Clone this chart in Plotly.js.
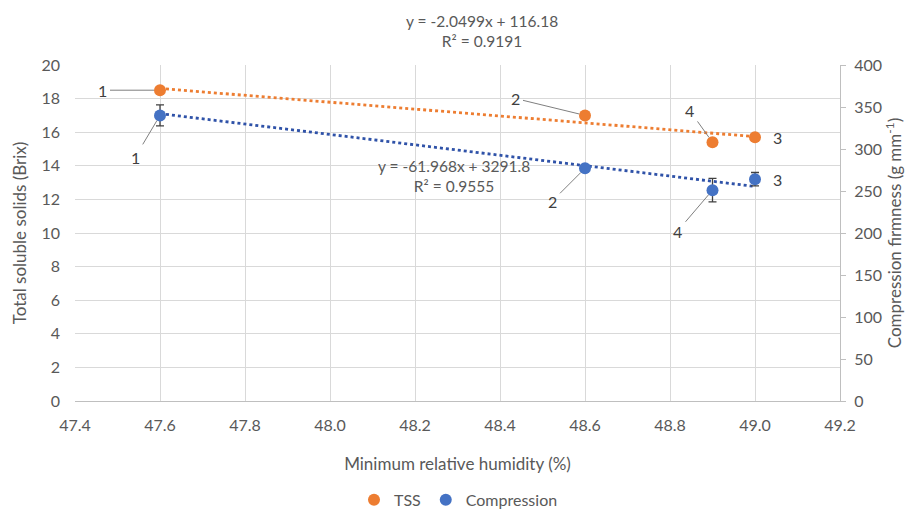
<!DOCTYPE html>
<html>
<head>
<meta charset="utf-8">
<script src="https://cdn.plot.ly/plotly-3.0.1.min.js"></script>
<style>html,body{margin:0;padding:0;background:#fff;}#chart{width:917px;height:511px;}</style>
</head>
<body>
<div id="chart"></div>
<script>
// Data
const humidity = [47.6, 48.6, 48.9, 49.0];
const pointLabels = ["1", "2", "4", "3"];
const tssValues = [18.5, 17.0, 15.4, 15.7];
const compressionValues = [340, 277, 251, 264];
const compressionErrors = [12.5, 3, 14, 8];
const tssFit = [-2.0499, 116.18];      // slope, intercept
const compressionFit = [-61.968, 3291.8];
const tssEqText = "y = -2.0499x + 116.18<br>R² = 0.9191";
const compEqText = "y = -61.968x + 3291.8<br>R² = 0.9555";

const ORANGE = "#ED7D31", BLUE = "#4472C4", BLUE_DARK = "#2F52A8";
const FONT = "Lato, 'Noto Sans', sans-serif";
const TXT = "#595959";

const xFit = [humidity[0], humidity[humidity.length - 1]];
const tssLine = xFit.map(x => tssFit[0] * x + tssFit[1]);
const compLine = xFit.map(x => compressionFit[0] * x + compressionFit[1]);

const traces = [
  {x: xFit, y: tssLine, mode: "lines", line: {color: ORANGE, width: 2.8, dash: "dot"}, showlegend: false, hoverinfo: "skip"},
  {x: xFit, y: compLine, yaxis: "y2", mode: "lines", line: {color: BLUE_DARK, width: 2.8, dash: "dot"}, showlegend: false, hoverinfo: "skip"},
  {x: humidity, y: tssValues, name: "TSS", mode: "markers", marker: {color: ORANGE, size: 12}},
  {x: humidity, y: compressionValues, name: "Compression", yaxis: "y2", mode: "markers",
   marker: {color: BLUE, size: 12},
   error_y: {type: "data", array: compressionErrors, visible: true, color: "#404040", thickness: 1.3, width: 4}}
];

// point label offsets (pixels) — styling only
const tssOff = [[-58, 0, true], [-70, -17, true], [-23, -32, true], [22, 0, false]];
const compOff = [[-25, 42, true], [-33, 33, true], [-35, 41, true], [22, 0, false]];

const annotations = [];
humidity.forEach((x, i) => {
  annotations.push({x: x, y: tssValues[i], xref: "x", yref: "y", text: pointLabels[i],
    showarrow: true, arrowhead: 0, arrowwidth: 1, arrowcolor: tssOff[i][2] ? "#7f7f7f" : "rgba(0,0,0,0)", standoff: 6,
    ax: tssOff[i][0], ay: tssOff[i][1], borderpad: 3,
    font: {family: FONT, size: 16, color: "#404040"}});
  annotations.push({x: x, y: compressionValues[i], xref: "x", yref: "y2", text: pointLabels[i],
    showarrow: true, arrowhead: 0, arrowwidth: 1, arrowcolor: compOff[i][2] ? "#7f7f7f" : "rgba(0,0,0,0)", standoff: 6,
    ax: compOff[i][0], ay: compOff[i][1], borderpad: 3,
    font: {family: FONT, size: 16, color: "#404040"}});
});
annotations.push({xref: "paper", yref: "paper", x: 0.532, y: 1.1, text: tssEqText, showarrow: false,
  font: {family: FONT, size: 15.5, color: TXT}, align: "center", yanchor: "middle"});
annotations.push({xref: "paper", yref: "paper", x: 0.495, y: 0.67, text: compEqText, showarrow: false,
  font: {family: FONT, size: 15.5, color: TXT}, align: "center", yanchor: "middle"});

const layout = {
  width: 917, height: 511,
  margin: {l: 75, r: 77, t: 65, b: 110},
  paper_bgcolor: "#fff", plot_bgcolor: "#fff",
  font: {family: FONT, color: TXT, size: 16},
  showlegend: true,
  legend: {orientation: "h", x: 0.5, xanchor: "center", xref: "container", yref: "container",
           y: 0.022, yanchor: "middle", itemwidth: 20, tracegroupgap: 0,
           font: {family: FONT, size: 16, color: TXT}},
  xaxis: {range: [47.4, 49.2], dtick: 0.2, tick0: 47.4, tickformat: ".1f", automargin: false,
          showgrid: true, gridcolor: "#d9d9d9", zeroline: false,
          showline: true, linecolor: "#bfbfbf", ticks: "", ticklabelstandoff: 10,
          title: {text: "Minimum relative humidity (%)", standoff: 24, font: {size: 17, color: TXT}},
          tickfont: {size: 16, color: TXT}},
  yaxis: {range: [0, 20], dtick: 2, showgrid: true, gridcolor: "#d9d9d9", zeroline: false, automargin: false,
          showline: false, ticks: "", ticklabelstandoff: 14,
          title: {text: "Total soluble solids (Brix)", standoff: 10, font: {size: 17, color: TXT}},
          tickfont: {size: 16, color: TXT}},
  yaxis2: {range: [0, 400], dtick: 50, overlaying: "y", side: "right", showgrid: false, zeroline: false, automargin: false,
           showline: true, linecolor: "#bfbfbf", ticks: "outside", ticklen: 5, tickcolor: "#bfbfbf",
           ticklabelstandoff: 5,
           title: {text: "Compression firmness (g mm<sup>-1</sup>)", standoff: 8, font: {size: 17, color: TXT}},
           tickfont: {size: 16, color: TXT}},
  annotations: annotations
};

Plotly.newPlot("chart", traces, layout, {displayModeBar: false, staticPlot: true});
</script>
</body>
</html>
